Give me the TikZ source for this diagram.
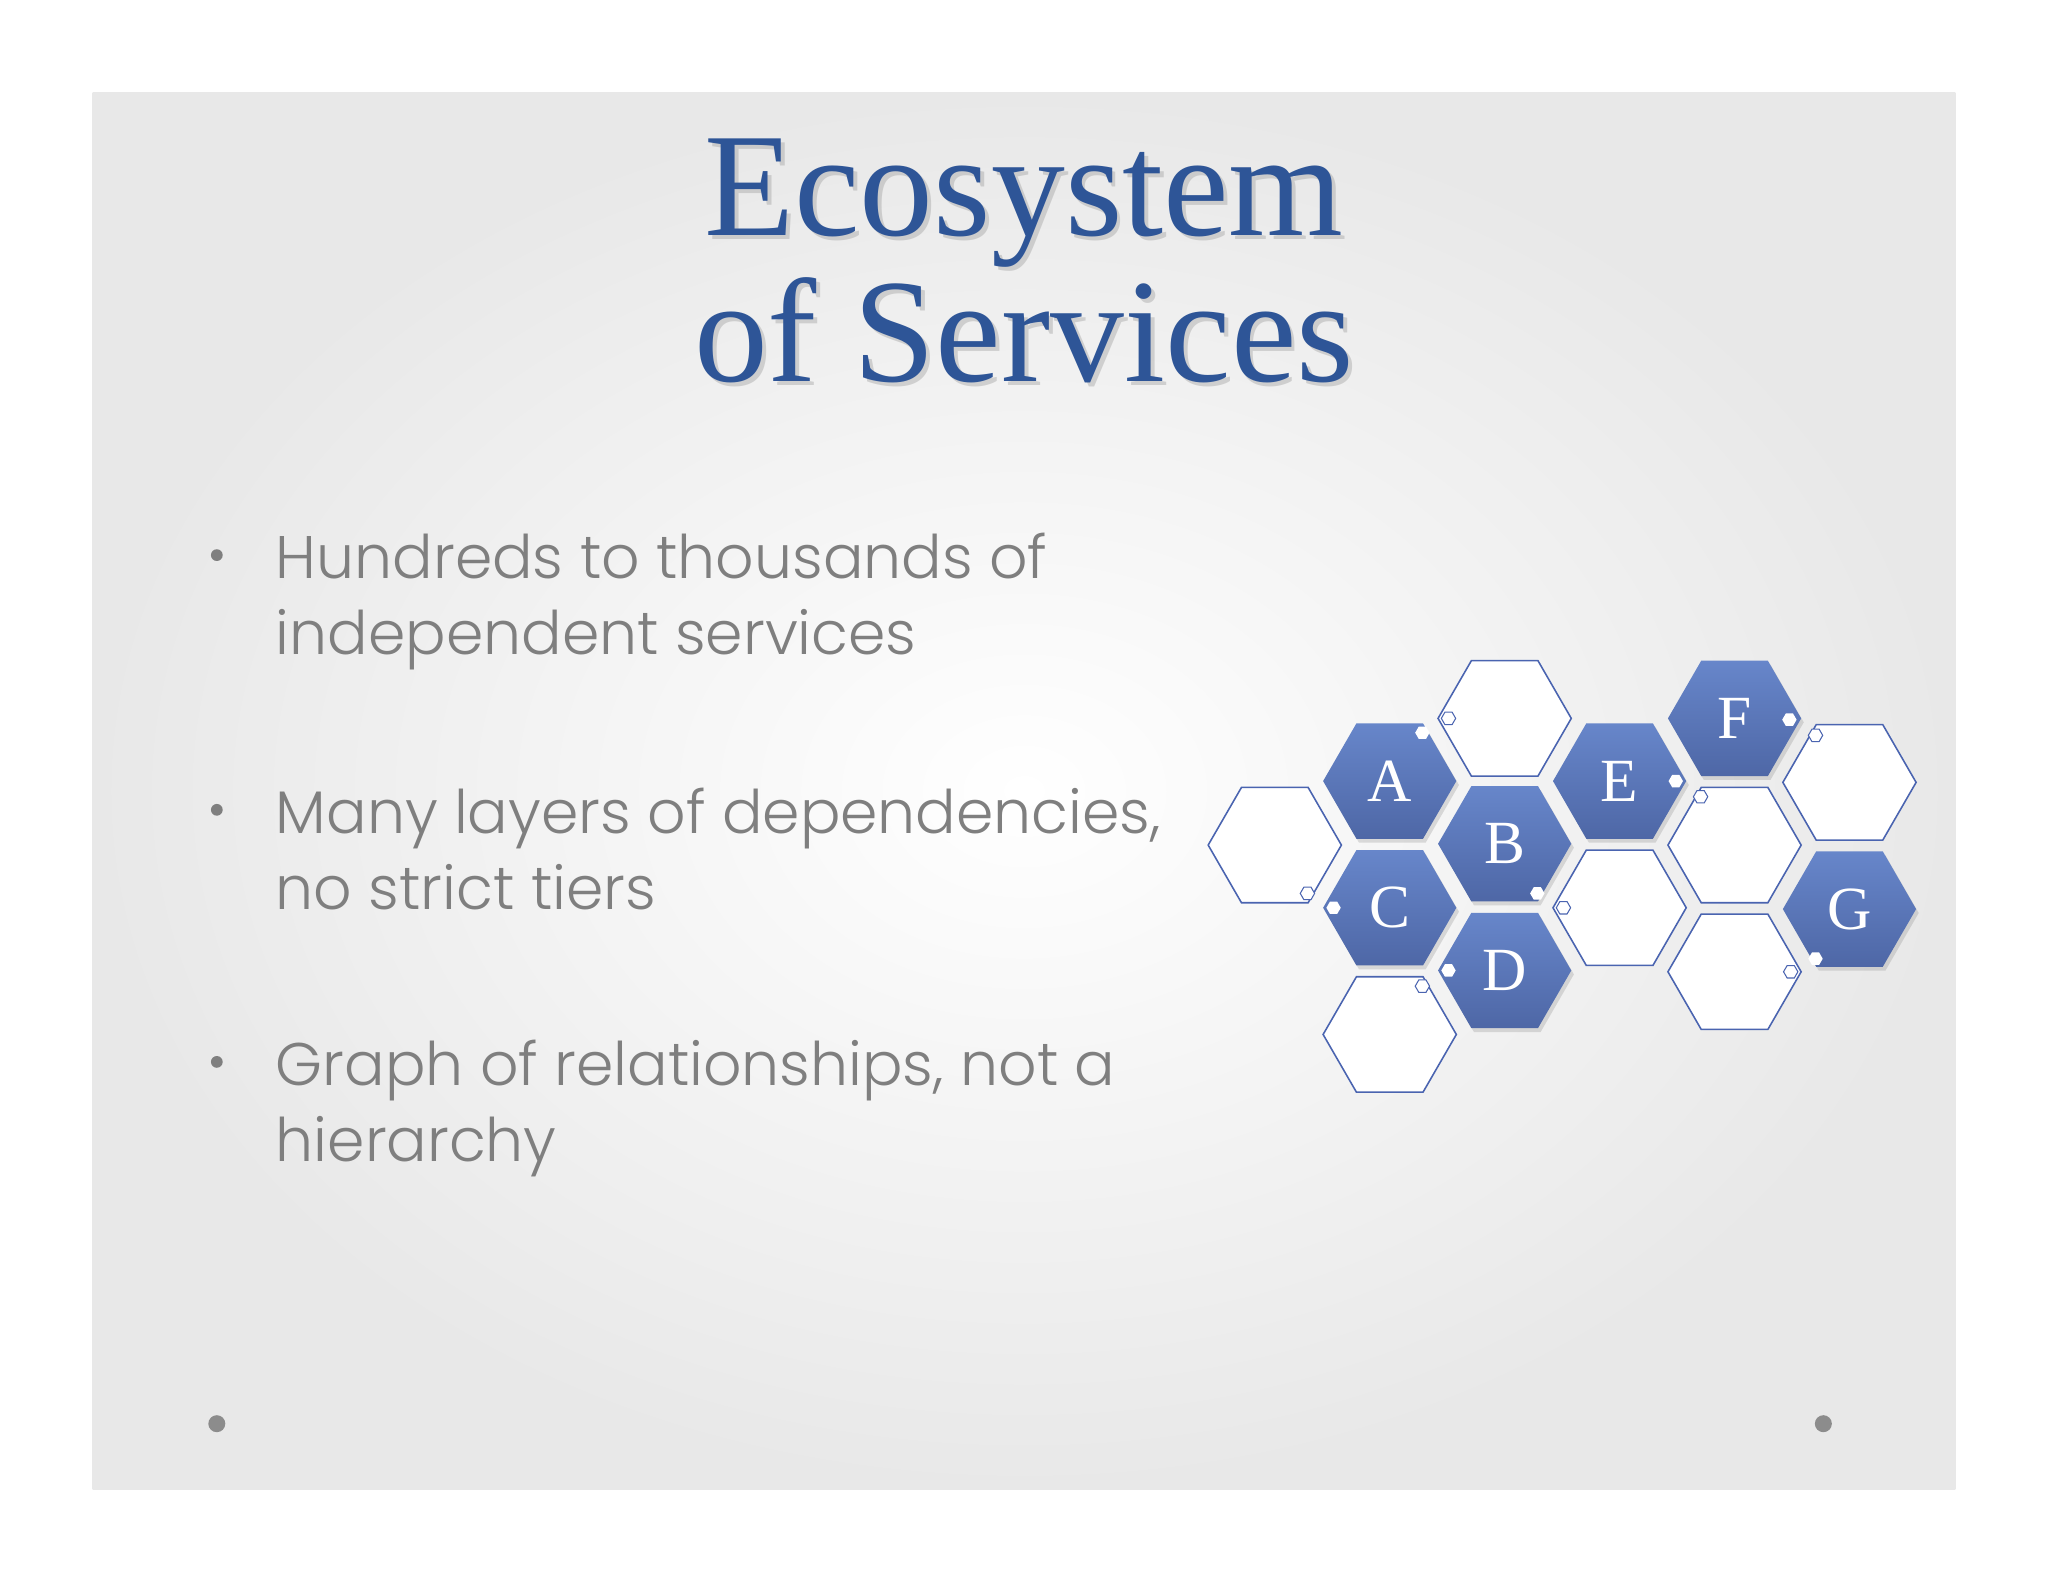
\documentclass[tikz,border=0pt]{standalone}
\usepackage{fontspec}
\setmainfont{Liberation Serif}
\newfontfamily\bulletfont{Poppins Light}
\usetikzlibrary{shapes.geometric,shadows}
\definecolor{titleblue}{HTML}{2E5597}
\definecolor{hexline}{HTML}{4A64B0}
\definecolor{hextop}{HTML}{6786CA}
\definecolor{hexbot}{HTML}{4E67A6}
\definecolor{txtgray}{HTML}{7F7F7F}
\tikzset{
  hexfull/.style={regular polygon,regular polygon sides=6,minimum size=102pt,inner sep=0pt,
    top color=hextop,bottom color=hexbot,draw=none,drop shadow={shadow xshift=2pt,shadow yshift=-3pt,opacity=0.25},
    text=white,font=\fontsize{47}{50}\selectfont},
  hexempty/.style={regular polygon,regular polygon sides=6,minimum size=102pt,inner sep=0pt,
    draw=hexline,line width=1.2pt,fill=white},
  dotfull/.style={regular polygon,regular polygon sides=6,minimum size=11pt,inner sep=0pt,fill=white,draw=none},
  dotempty/.style={regular polygon,regular polygon sides=6,minimum size=11pt,inner sep=0pt,fill=white,draw=hexline,line width=0.8pt},
  bullettext/.style={anchor=base west,align=left,inner xsep=0pt,text=txtgray,font=\bulletfont\fontsize{46}{58}\selectfont},
  bulletdot/.style={circle,fill=txtgray,minimum size=9pt,inner sep=0pt},
  cornerdot/.style={circle,fill=txtgray!90,minimum size=13pt,inner sep=0pt}
}
\begin{document}
\begin{tikzpicture}[x=1pt,y=-1pt]
\useasboundingbox (0,0) rectangle (1568,1211);
\fill[white] (0,0) rectangle (1568,1211);
\shade[inner color=white,outer color=black!9] (71,71) rectangle (1497,1140);
% title
\node[text=gray!70,opacity=0.45,font=\fontsize{113}{112}\selectfont,align=center,anchor=base] (titleshadow) at (787,295) {Ecosystem\\of Services};
\node[text=titleblue,font=\fontsize{113}{112}\selectfont,align=center,anchor=base] (title) at (784,292) {Ecosystem\\of Services};
% bullets
\node[bulletdot] (b1) at (166,425) {};
\node[bulletdot] (b2) at (166,620) {};
\node[bulletdot] (b3) at (166,813) {};
\node[bullettext] (t1) at (211,501) {Hundreds to thousands of\\independent services};
\node[bullettext] (t2) at (211,696) {Many layers of dependencies,\\no strict tiers};
\node[bullettext] (t3) at (211,889) {Graph of relationships, not a\\hierarchy};
\node[cornerdot] (cd1) at (166,1090) {};
\node[cornerdot] (cd2) at (1396,1090) {};
% hexagons
\node[hexempty] (h0) at (976,647) {};
\node[hexempty] (h1) at (1152,550) {};
\node[hexempty] (h2) at (1064,792) {};
\node[hexempty] (h3) at (1240,695) {};
\node[hexempty] (h4) at (1328,647) {};
\node[hexempty] (h5) at (1328,744) {};
\node[hexempty] (h6) at (1416,599) {};
\node[hexfull] (A) at (1064,598) {A};
\node[hexfull] (B) at (1152,646) {B};
\node[hexfull] (C) at (1064,695) {C};
\node[hexfull] (D) at (1152,743) {D};
\node[hexfull] (E) at (1240,598) {E};
\node[hexfull] (F) at (1328,550) {F};
\node[hexfull] (G) at (1416,696) {G};
% small dots
\node[dotfull] (dA) at (1089,561) {};
\node[dotfull] (dE) at (1283,598) {};
\node[dotfull] (dF) at (1370,551) {};
\node[dotfull] (dB) at (1177,684) {};
\node[dotfull] (dC) at (1021,695) {};
\node[dotfull] (dG) at (1390,734) {};
\node[dotfull] (dD) at (1109,743) {};
\node[dotempty] (e1) at (1109,550) {};
\node[dotempty] (e6) at (1390,563) {};
\node[dotempty] (e4) at (1302,610) {};
\node[dotempty] (e0) at (1001,684) {};
\node[dotempty] (e3) at (1197,695) {};
\node[dotempty] (e5) at (1371,744) {};
\node[dotempty] (e2) at (1089,755) {};
\end{tikzpicture}
\end{document}
